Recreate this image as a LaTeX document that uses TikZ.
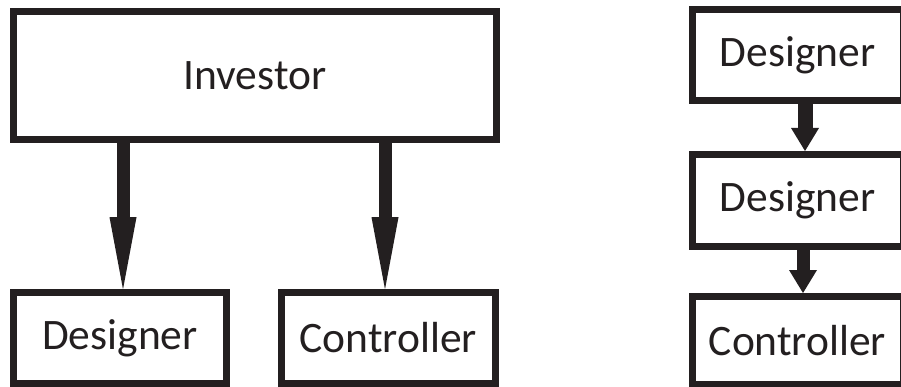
\documentclass[tikz,border=0pt]{standalone}
\usepackage{fontspec}
\setmainfont{Carlito}
\usetikzlibrary{arrows.meta}
\definecolor{ink}{HTML}{231F20}
\begin{document}
\begin{tikzpicture}[x=1pt,y=-1pt,
  box/.style={draw=ink,line width=7pt,rectangle,inner sep=0pt,
    text=ink,font=\fontsize{43.5}{50}\selectfont},
  bigarrow/.style={draw=ink,line width=#1,
    -{Triangle[length=72pt,width=27pt,line width=0pt,fill=ink]}},
  smallarrow/.style={draw=ink,line width=#1,
    -{Triangle[length=23pt,width=28pt,line width=0pt,fill=ink]}}]
\useasboundingbox (0,0) rectangle (901,387);
\fill[white] (0,0) rectangle (901,387);
% left diagram
\node[box,minimum width=483pt,minimum height=128.5pt] (inv) at (255,75.75) {Investor};
\node[box,minimum width=213pt,minimum height=90.5pt] (des) at (120,338) {Designer};
\node[box,minimum width=214.5pt,minimum height=90.5pt] (con) at (388.25,338) {Controller};
\coordinate (xl) at (123,0);
\coordinate (xr) at (385,0);
\draw[bigarrow=13pt] (inv.south -| xl) -- (des.north -| xl);
\draw[bigarrow=13pt] (inv.south -| xr) -- (con.north -| xr);
% right diagram
\node[box,minimum width=211pt,minimum height=90.5pt] (rdA) at (797.5,55.25) {Designer};
\node[box,minimum width=211pt,minimum height=92pt] (rdB) at (797.5,200.5) {Designer};
\node[box,minimum width=211pt,minimum height=87.5pt] (rc) at (797.5,340.25) {Controller};
\coordinate (xa) at (805,0);
\coordinate (xb) at (803,0);
\draw[smallarrow=15pt] (rdA.south -| xa) -- (rdB.north -| xa);
\draw[smallarrow=13pt] (rdB.south -| xb) -- (rc.north -| xb);
\end{tikzpicture}
\end{document}
